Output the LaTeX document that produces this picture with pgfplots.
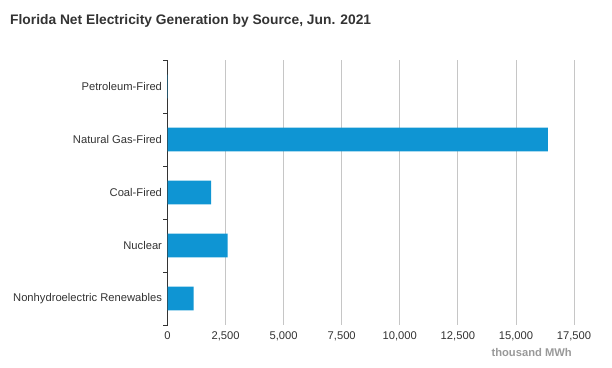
\documentclass[border=0pt]{standalone}
\usepackage{fontspec}
\setmainfont{Liberation Sans}
\usepackage{pgfplots}
\pgfplotsset{compat=1.18}
\definecolor{barblue}{HTML}{0F95D3}
\definecolor{txt}{HTML}{333333}
\definecolor{gridc}{HTML}{C6C6C6}
\definecolor{lab}{HTML}{999999}
\begin{document}
\begin{tikzpicture}
\useasboundingbox (0,0) rectangle (612pt,367pt);
\node[anchor=base west, font=\bfseries\fontsize{13.8}{16}\selectfont, text=txt, inner sep=0pt] at (10pt,342pt) {Florida Net Electricity Generation by Source, Jun. 2021};
\begin{axis}[
  at={(167.5pt,42pt)}, anchor=south west,
  scale only axis, width=406.5pt, height=265pt,
  xbar, bar width=0.45,
  xmin=0, xmax=17500,
  ymin=-0.5, ymax=4.5, y dir=reverse,
  ytick={0,1,2,3,4},
  yticklabels={Petroleum-Fired,Natural Gas-Fired,Coal-Fired,Nuclear,Nonhydroelectric Renewables},
  minor ytick={-0.5,0.5,1.5,2.5,3.5,4.5},
  xtick={0,2500,...,17500},
  scaled x ticks=false,
  /pgf/number format/.cd, fixed, 1000 sep={,}, assume math mode=true, /pgfplots/.cd,
  axis x line*=bottom, axis y line*=left,
  x axis line style={draw=none},
  y axis line style={draw=txt, line width=0.8pt},
  major tick length=0pt,
  minor tick length=4pt,
  minor tick style={draw=txt, line width=0.8pt},
  tick align=outside,
  xmajorgrids, major grid style={gridc, line width=0.8pt},
  ticklabel style={font=\fontsize{11.2}{13}\selectfont, text=txt},
  yticklabel style={xshift=-2pt},
  xticklabel style={yshift=-3pt},
  clip=false,
]
\addplot[fill=barblue, draw=none] coordinates {(15,0) (16370,1) (1873,2) (2591,3) (1128,4)};
\end{axis}
\node[anchor=east, font=\bfseries\fontsize{11.2}{13}\selectfont, text=lab, inner sep=0pt] at (572pt,15pt) {thousand MWh};
\end{tikzpicture}
\end{document}
